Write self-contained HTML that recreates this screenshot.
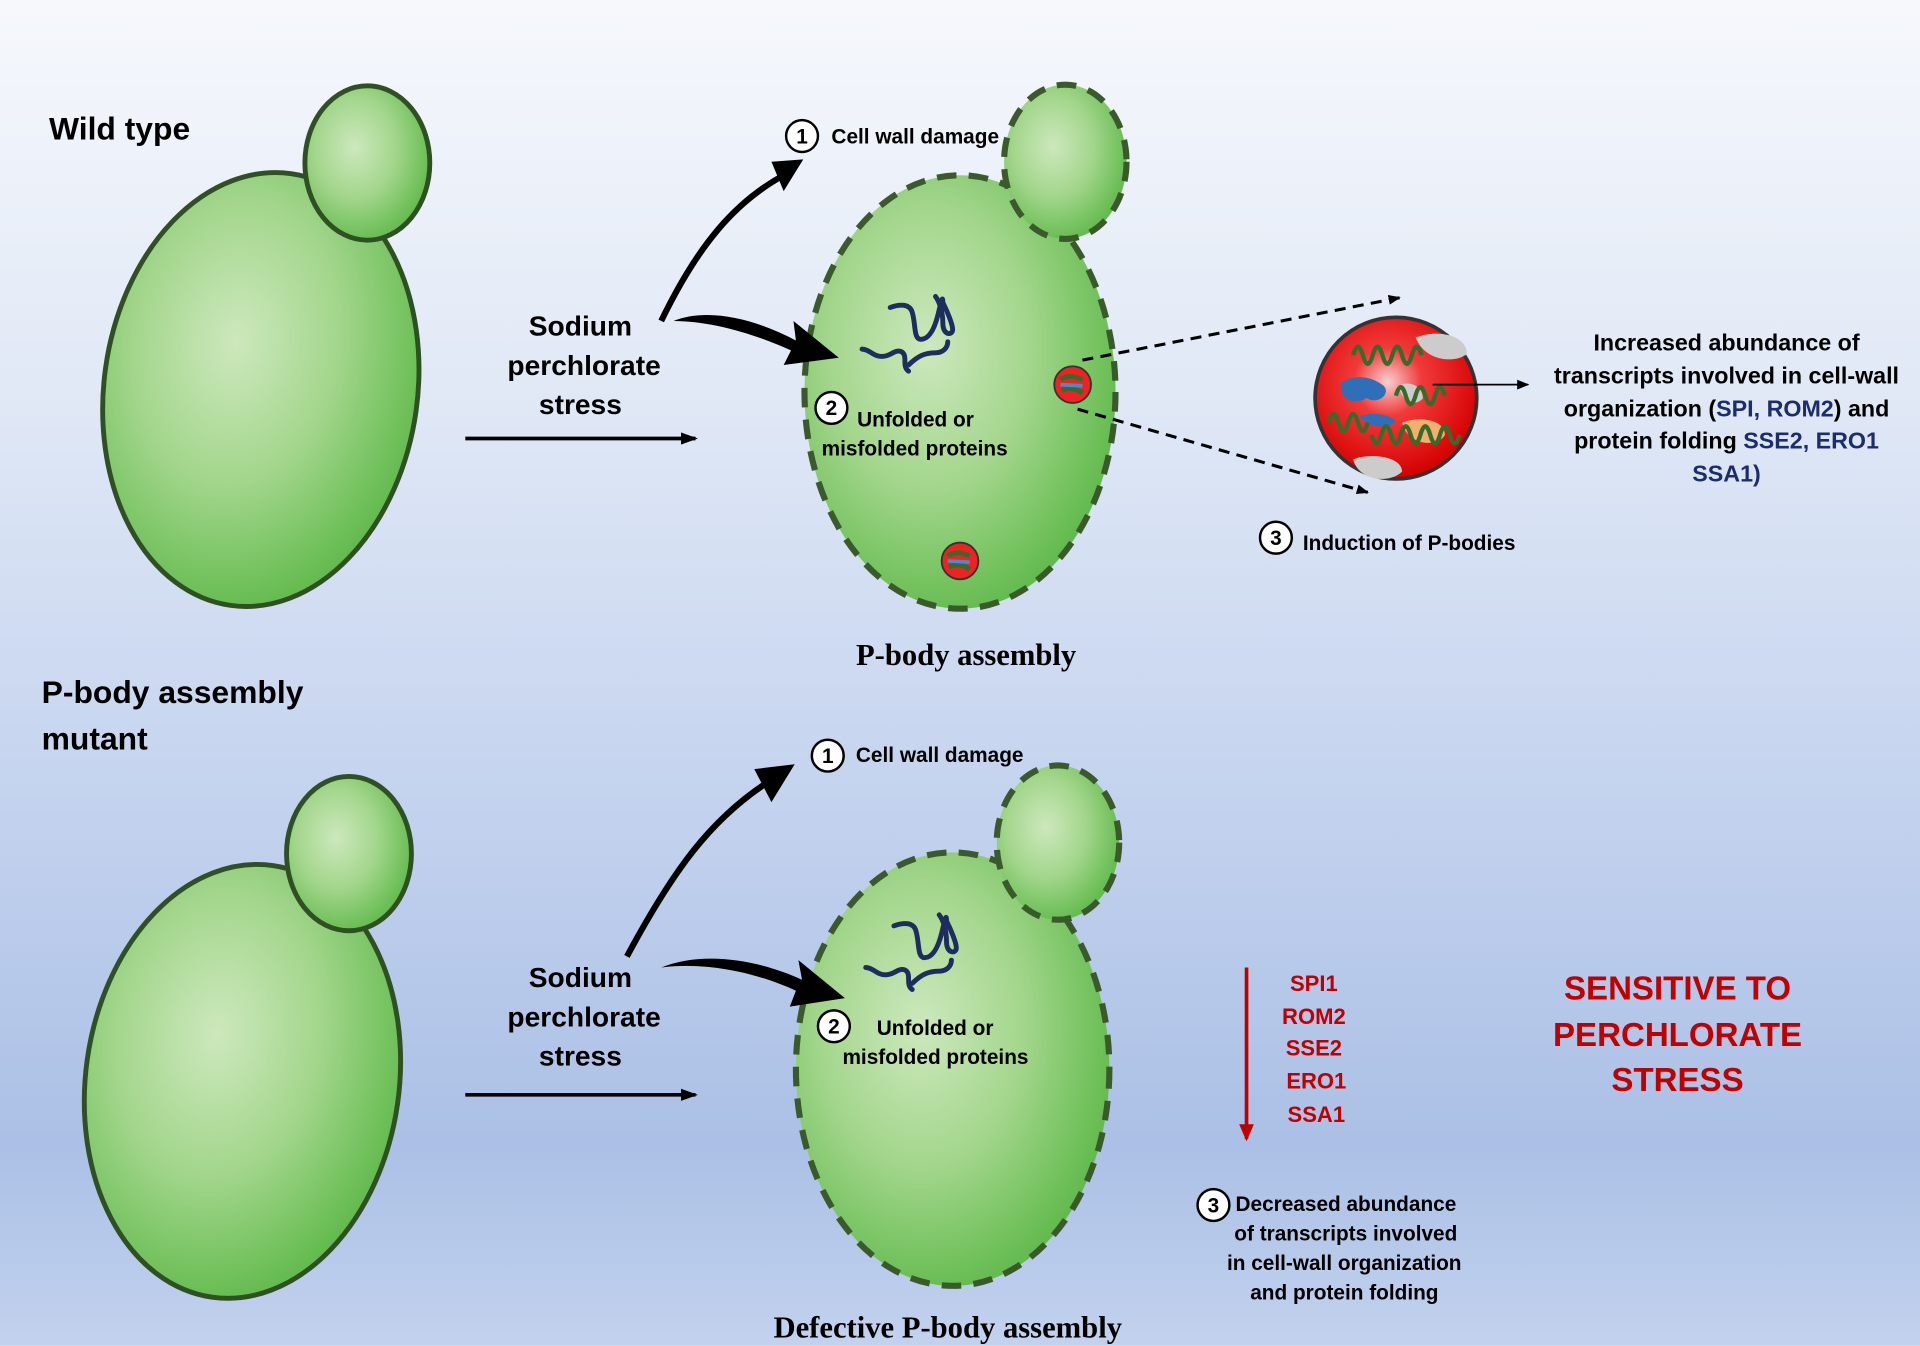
<!DOCTYPE html>
<html><head><meta charset="utf-8"><style>
html,body{margin:0;padding:0;width:1920px;height:1346px;overflow:hidden}
svg{display:block}
text{font-family:"Liberation Sans",sans-serif;font-weight:bold}
.serif{font-family:"Liberation Serif",serif}
</style></head><body>
<svg width="1920" height="1346" viewBox="0 0 1568 1099" xmlns="http://www.w3.org/2000/svg">
<defs>
<linearGradient id="bg" x1="0" y1="0" x2="0" y2="1">
<stop offset="0" stop-color="#f6f8fc"/><stop offset="0.3" stop-color="#e0e8f6"/>
<stop offset="0.6" stop-color="#c3d2ee"/><stop offset="0.85" stop-color="#abc0e6"/><stop offset="1" stop-color="#c2d2ee"/>
</linearGradient>
<radialGradient id="g" cx="0.4" cy="0.4" r="0.65">
<stop offset="0" stop-color="#cde8bd"/><stop offset="0.5" stop-color="#a3d68c"/><stop offset="1" stop-color="#5fb94a"/>
</radialGradient>
<radialGradient id="r" cx="0.45" cy="0.4" r="0.6">
<stop offset="0" stop-color="#f7d0d0"/><stop offset="0.35" stop-color="#f23a3a"/><stop offset="1" stop-color="#d40000"/>
</radialGradient>
<marker id="ah" markerWidth="10" markerHeight="8" refX="9" refY="4" orient="auto" markerUnits="userSpaceOnUse"><path d="M0,0 L10,4 L0,8z" fill="#000"/></marker>
<marker id="ah2" markerWidth="14" markerHeight="10" refX="12" refY="5" orient="auto" markerUnits="userSpaceOnUse"><path d="M0,0 L14,5 L0,10z" fill="#000"/></marker>
<marker id="ahr" markerWidth="14" markerHeight="12" refX="12" refY="6" orient="auto" markerUnits="userSpaceOnUse"><path d="M0,0 L14,6 L0,12z" fill="#c00000"/></marker>
<g id="pb">
<circle r="66" fill="url(#r)" stroke="#333" stroke-width="3"/>
<path d="M-45,-12 c10,-8 25,-6 35,2 c6,6 -4,16 -14,10 c-10,6 -22,2 -21,-12z" fill="#2e6fb8"/>
<path d="M-30,15 c10,-4 25,-2 30,4 c-6,6 -20,6 -30,-4z" fill="#2e6fb8"/>
<path d="M18,-50 c15,-6 40,-2 40,14 c-10,8 -35,6 -42,-14z" fill="#ccc"/>
<path d="M2,-10 c8,-5 20,0 20,10 c-4,6 -16,6 -20,-10z" fill="#ccc"/>
<path d="M5,20 c15,-6 35,-2 35,10 c-5,10 -30,10 -35,-10z" fill="#f0b070"/>
<path d="M-35,50 c15,-6 40,-2 40,10 c-10,10 -35,8 -40,-10z" fill="#ccc"/>
<g fill="none" stroke="#3a6a2a" stroke-width="3.5">
<path d="M-35,-35 q4,-14 8,0 q4,14 8,0 q4,-14 8,0 q4,14 8,0 q4,-14 8,0 q4,14 8,0 q4,-14 8,0"/>
<path d="M-55,20 q4,-14 8,0 q4,14 8,0 q4,-14 8,0 q4,14 8,0"/>
<path d="M-20,30 q4,14 8,0 q4,-14 8,0 q4,14 8,0 q4,-14 8,0 q4,14 8,0 q4,-14 8,0 q4,14 8,0 q4,-14 8,0 q4,14 8,0"/>
<path d="M0,-2 q4,-14 8,0 q4,14 8,0 q4,-14 8,0 q4,14 8,0 q4,-14 8,0"/>
</g>
</g>
<g id="spb">
<circle r="15" fill="#e22" stroke="#333" stroke-width="1.5"/>
<path d="M-10,-4 c5,-4 12,-3 18,0 M-9,5 c5,-3 12,-2 17,2" stroke="#3a6a2a" stroke-width="4" fill="none"/>
<path d="M-10,0 l18,1" stroke="#4a8ad0" stroke-width="3"/>
</g>
<g id="prot" fill="none" stroke="#1c2d5e" stroke-width="4" stroke-linecap="round">
<path d="M727,251 c8,-3 16,-3 18,4 c3,10 1,22 7,22 c8,0 12,-12 14,-20 c2,-8 4,-18 4,-10 c4,8 8,18 8,22 c0,5 -8,5 -8,-5 c0,-10 -3,-18 -6,-22"/>
<path d="M704,285 c6,0 9,6 16,6 c8,0 10,-6 16,-4 c6,3 0,12 6,16 M742,298 c8,-8 14,-10 22,-10 c6,0 10,-4 10,-9"/>
</g>
</defs>
<rect width="1568" height="1099" fill="url(#bg)"/>

<ellipse cx="213" cy="318" rx="128" ry="178" fill="url(#g)" stroke="#2f5023" stroke-width="4" transform="rotate(8 213 318)"/>
<ellipse cx="300" cy="133" rx="51" ry="63" fill="url(#g)" stroke="#2f5023" stroke-width="4"/>
<ellipse cx="198" cy="883" rx="128" ry="178" fill="url(#g)" stroke="#2f5023" stroke-width="4" transform="rotate(8 198 883)"/>
<ellipse cx="285" cy="697" rx="51" ry="63" fill="url(#g)" stroke="#2f5023" stroke-width="4"/>

<ellipse cx="784" cy="320" rx="127" ry="177" fill="url(#g)" stroke="#3b5a2c" stroke-width="5" stroke-dasharray="16 10"/>
<ellipse cx="870" cy="132" rx="50" ry="63" fill="url(#g)" stroke="#3b5a2c" stroke-width="5" stroke-dasharray="16 10"/>
<ellipse cx="778" cy="873" rx="128" ry="177" fill="url(#g)" stroke="#3b5a2c" stroke-width="5" stroke-dasharray="16 10"/>
<ellipse cx="864" cy="688" rx="50" ry="63" fill="url(#g)" stroke="#3b5a2c" stroke-width="5" stroke-dasharray="16 10"/>

<use href="#prot"/>
<use href="#prot" x="3" y="505"/>

<use href="#spb" x="876" y="314"/>
<use href="#spb" x="784" y="458"/>
<use href="#pb" x="1140" y="325"/>

<g stroke="#000" stroke-width="2.5" stroke-dasharray="9 6" fill="none">
<line x1="884" y1="294" x2="1143" y2="243" marker-end="url(#ah)"/>
<line x1="880" y1="334" x2="1117" y2="402" marker-end="url(#ah)"/>
</g>
<line x1="1170" y1="314" x2="1248" y2="314" stroke="#000" stroke-width="1.5" marker-end="url(#ah)"/>

<line x1="380" y1="358" x2="568" y2="358" stroke="#000" stroke-width="3" marker-end="url(#ah2)"/>
<line x1="380" y1="894" x2="568" y2="894" stroke="#000" stroke-width="3" marker-end="url(#ah2)"/>
<path d="M540,262 C570,200 600,165 640,143" stroke="#000" stroke-width="5" fill="none"/>
<path d="M630,132 L656,130 L640,156z" fill="#000"/>
<path d="M550,262 C580,250 620,262 650,278 L648,262 L685,292 L640,298 L646,286 C615,272 580,262 550,262z" fill="#000"/>
<path d="M512,781 C550,710 580,670 625,640" stroke="#000" stroke-width="5" fill="none"/>
<path d="M616,628 L649,624 L630,655z" fill="#000"/>
<path d="M540,790 C575,776 620,784 655,800 L652,784 L690,815 L645,822 L650,809 C620,795 578,785 540,790z" fill="#000"/>

<line x1="1018" y1="790" x2="1018" y2="930" stroke="#c00000" stroke-width="3" marker-end="url(#ahr)"/>

<g fill="#fff" stroke="#000" stroke-width="2">
<circle cx="655" cy="111" r="13"/><circle cx="679" cy="333" r="13"/><circle cx="1042" cy="439" r="13"/>
<circle cx="676" cy="617" r="13"/><circle cx="681" cy="838" r="13"/><circle cx="991" cy="984" r="13"/>
</g>
<g font-size="17" text-anchor="middle" fill="#000">
<text x="655" y="117">1</text><text x="679" y="339">2</text><text x="1042" y="445">3</text>
<text x="676" y="623">1</text><text x="681" y="844">2</text><text x="991" y="990">3</text>
</g>

<g fill="#000">
<text x="40" y="114" font-size="26">Wild type</text>
<text x="34" y="574" font-size="26">P-body assembly</text>
<text x="34" y="612" font-size="26">mutant</text>
<g font-size="23" text-anchor="middle">
<text x="474" y="274">Sodium</text><text x="477" y="306">perchlorate</text><text x="474" y="338">stress</text>
<text x="474" y="806">Sodium</text><text x="477" y="838">perchlorate</text><text x="474" y="870">stress</text>
</g>
<g font-size="17">
<text x="679" y="117">Cell wall damage</text>
<text x="700" y="348">Unfolded or</text>
<text x="671" y="372">misfolded proteins</text>
<text x="1064" y="449">Induction of P-bodies</text>
<text x="699" y="622">Cell wall damage</text>
<text x="716" y="845">Unfolded or</text>
<text x="688" y="869">misfolded proteins</text>
<text x="1009" y="989">Decreased abundance</text>
<text x="1008" y="1013">of transcripts involved</text>
<text x="1002" y="1037">in cell-wall organization</text>
<text x="1021" y="1061">and protein folding</text>
</g>
<g font-size="19" text-anchor="middle">
<text x="1410" y="286">Increased abundance of</text>
<text x="1410" y="313">transcripts involved in cell-wall</text>
<text x="1410" y="340">organization (<tspan fill="#1c2d6e">SPI, ROM2</tspan>) and</text>
<text x="1410" y="366">protein folding  <tspan fill="#1c2d6e">SSE2, ERO1</tspan></text>
<text x="1410" y="393" fill="#1c2d6e">SSA1)</text>
</g>
<text class="serif" x="789" y="543" font-size="25" text-anchor="middle">P-body assembly</text>
<text class="serif" x="774" y="1092" font-size="25" text-anchor="middle">Defective P-body assembly</text>
</g>
<g fill="#c00000" font-size="18" text-anchor="middle">
<text x="1073" y="809">SPI1</text><text x="1073" y="836">ROM2</text><text x="1073" y="862">SSE2</text>
<text x="1075" y="889">ERO1</text><text x="1075" y="916">SSA1</text>
</g>
<g fill="#c00000" font-size="27" text-anchor="middle">
<text x="1370" y="816">SENSITIVE TO</text><text x="1370" y="854">PERCHLORATE</text><text x="1370" y="891">STRESS</text>
</g>
</svg>
</body></html>
